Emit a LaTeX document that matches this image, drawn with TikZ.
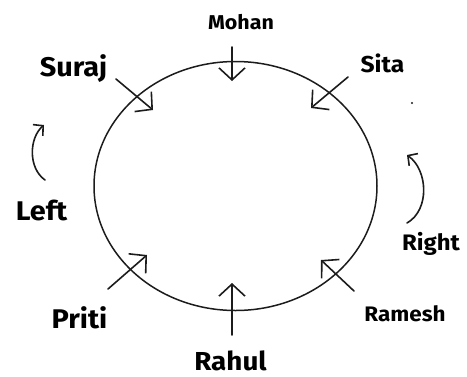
\documentclass[tikz,border=0pt]{standalone}
\usepackage{fontspec}
\setmainfont{Fira Sans}[UprightFont=* Bold, FakeStretch=1.07]
\usetikzlibrary{arrows.meta,shapes.geometric}
\definecolor{ink}{HTML}{1C1C1C}
\tikzset{
  lbl/.style={inner sep=0pt, anchor=base, text=black},
  pointer/.style={draw=ink, line width=1.6pt, line cap=round,
    -{Straight Barb[length=12pt,width=26pt,line width=1.6pt]}},
  turner/.style={draw=ink, line width=1.6pt, line cap=round,
    -{Straight Barb[length=7pt,width=15pt,line width=1.6pt]}},
}
\begin{document}
\begin{tikzpicture}[x=1pt,y=-1pt]
\useasboundingbox (0,0) rectangle (467,376);
% table
\node[draw=ink, line width=1.5pt, ellipse, minimum width=283pt, minimum height=249pt, inner sep=0pt] (table) at (235.5,186) {};
% labels
\node[lbl, font=\fontsize{20}{20}\selectfont] (mohan) at (241,29.3) {Mohan};
\node[lbl, font=\fontsize{27}{27}\selectfont] (suraj) at (73.5,76) {Suraj};
\node[lbl, font=\fontsize{23}{23}\selectfont] (sita) at (382.5,72.7) {Sita};
\node[lbl, font=\fontsize{27}{27}\selectfont] (left) at (41.5,220.7) {Left};
\node[lbl, font=\fontsize{22.4}{23}\selectfont] (right) at (431,250.7) {Right};
\node[lbl, font=\fontsize{27}{27}\selectfont] (priti) at (79.5,328) {Priti};
\node[lbl, font=\fontsize{21}{22}\selectfont] (ramesh) at (405,321.7) {Ramesh};
\node[lbl, font=\fontsize{26}{26}\selectfont] (rahul) at (230.5,370.5) {Rahul};
% arrow ends
\coordinate (mohanT) at (232,47);   \coordinate (mohanH) at (232,81);
\coordinate (surajT) at (116,79);   \coordinate (surajH) at (153,110);
\coordinate (sitaT) at (348,77);    \coordinate (sitaH) at (311,108);
\coordinate (pritiT) at (108,289);  \coordinate (pritiH) at (147,255);
\coordinate (rameshT) at (354,291); \coordinate (rameshH) at (321,260);
\coordinate (rahulT) at (232,335);  \coordinate (rahulH) at (232,283);
\coordinate (leftA) at (45,180);    \coordinate (leftB) at (44,125);
\coordinate (rightA) at (407,223);  \coordinate (rightB) at (407,155);
\draw[pointer] (mohanT) -- (mohanH);
\draw[pointer] (surajT) -- (surajH);
\draw[pointer] (sitaT) -- (sitaH);
\draw[pointer] (pritiT) -- (pritiH);
\draw[pointer] (rameshT) -- (rameshH);
\draw[pointer] (rahulT) -- (rahulH);
\draw[turner] (leftA) .. controls (28,168) and (29,138) .. (leftB);
\draw[turner] (rightA) .. controls (430,210) and (428,170) .. (rightB);
\fill[ink] (412,103) circle (1.2pt);
\end{tikzpicture}
\end{document}
